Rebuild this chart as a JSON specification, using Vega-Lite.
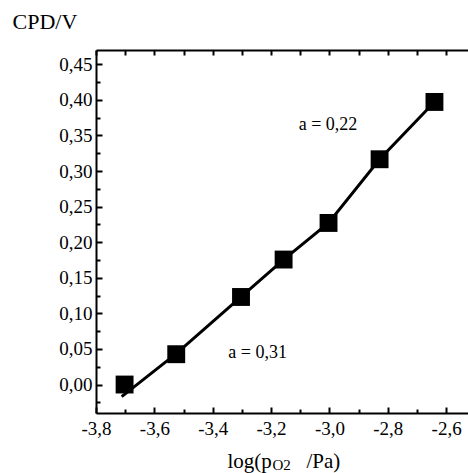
{
  "$schema": "https://vega.github.io/schema/vega-lite/v6.json",
  "autosize": "none",
  "padding": {"left": 96, "top": 50, "right": 0, "bottom": 60},
  "width": 372,
  "height": 363,
  "background": "white",
  "config": {
    "view": {"stroke": null},
    "font": "Liberation Serif",
    "axis": {
      "grid": false,
      "labelFont": "Liberation Serif",
      "labelFontSize": 19,
      "labelColor": "black",
      "labelFlush": false,
      "labelOverlap": false,
      "titleFont": "Liberation Serif",
      "titleFontWeight": "normal",
      "titleColor": "black",
      "tickColor": "black",
      "domainColor": "black",
      "tickWidth": 2,
      "domainWidth": 2
    }
  },
  "datasets": {
    "points": [
      {"logp": -3.702, "cpd": 0.000},
      {"logp": -3.525, "cpd": 0.0426},
      {"logp": -3.303, "cpd": 0.123},
      {"logp": -3.157, "cpd": 0.1756},
      {"logp": -3.003, "cpd": 0.227},
      {"logp": -2.828, "cpd": 0.3165},
      {"logp": -2.640, "cpd": 0.397}
    ],
    "fit": [
      {"logp": -3.712, "cpd": -0.017},
      {"logp": -3.525, "cpd": 0.0435},
      {"logp": -3.303, "cpd": 0.123},
      {"logp": -3.157, "cpd": 0.1756},
      {"logp": -3.003, "cpd": 0.227},
      {"logp": -2.828, "cpd": 0.3165},
      {"logp": -2.640, "cpd": 0.397}
    ],
    "notes": [
      {"logp": -3.005, "cpd": 0.364, "label": "a = 0,22"},
      {"logp": -3.246, "cpd": 0.0436, "label": "a = 0,31"}
    ]
  },
  "resolve": {"axis": {"x": "independent", "y": "independent"}},
  "layer": [
    {
      "data": {"name": "fit"},
      "mark": {"type": "line", "color": "black", "strokeWidth": 3},
      "encoding": {
        "x": {
          "field": "logp", "type": "quantitative",
          "scale": {"domain": [-3.8, -2.525], "nice": false, "zero": false},
          "axis": {
            "orient": "bottom",
            "values": [-3.8, -3.6, -3.4, -3.2, -3.0, -2.8, -2.6],
            "labelExpr": "replace(replace(format(datum.value, '.1f'), '.', ','), '\u2212', '-')",
            "tickSize": -6,
            "labelPadding": 12,
            "title": "log(p",
            "titleFontSize": 21,
            "titleAlign": "left",
            "titleBaseline": "alphabetic",
            "titleAnchor": null,
            "titleX": 131,
            "titleY": 54
          }
        },
        "y": {
          "field": "cpd", "type": "quantitative",
          "scale": {"domain": [-0.04, 0.47], "nice": false, "zero": false},
          "axis": {
            "orient": "left",
            "values": [0, 0.05, 0.1, 0.15, 0.2, 0.25, 0.3, 0.35, 0.4, 0.45],
            "labelExpr": "replace(format(datum.value, '.2f'), '.', ',')",
            "tickSize": -6,
            "labelPadding": 10,
            "title": "CPD/V",
            "titleFontSize": 22,
            "titleAngle": 0,
            "titleAlign": "left",
            "titleBaseline": "alphabetic",
            "titleAnchor": null,
            "titleX": -84,
            "titleY": -22
          }
        },
        "order": {"field": "logp", "type": "quantitative"}
      }
    },
    {
      "data": {"name": "points"},
      "mark": {"type": "point", "shape": "square", "filled": true, "color": "black", "opacity": 1, "size": 320},
      "encoding": {
        "x": {
          "field": "logp", "type": "quantitative",
          "axis": {
            "orient": "bottom",
            "values": [-3.7, -3.5, -3.3, -3.1, -2.9, -2.7],
            "labels": false,
            "domain": false,
            "tickSize": -4,
            "title": "O2",
            "titleFontSize": 15,
            "titleAlign": "left",
            "titleBaseline": "alphabetic",
            "titleAnchor": null,
            "titleX": 176,
            "titleY": 56
          }
        },
        "y": {
          "field": "cpd", "type": "quantitative",
          "axis": {
            "orient": "left",
            "values": [-0.025, 0.025, 0.075, 0.125, 0.175, 0.225, 0.275, 0.325, 0.375, 0.425],
            "labels": false,
            "domain": false,
            "tickSize": -4,
            "title": null
          }
        }
      }
    },
    {
      "data": {"name": "notes"},
      "mark": {"type": "text", "font": "Liberation Serif", "fontSize": 18, "color": "black", "align": "center", "baseline": "middle"},
      "encoding": {
        "x": {
          "field": "logp", "type": "quantitative",
          "axis": {
            "orient": "top",
            "values": [-3.8, -3.7, -3.6, -3.5, -3.4, -3.3, -3.2, -3.1, -3.0, -2.9, -2.8, -2.7, -2.6],
            "labels": false,
            "domain": true,
            "tickSize": -5,
            "title": "/Pa)",
            "titleFontSize": 21,
            "titleAlign": "left",
            "titleBaseline": "alphabetic",
            "titleAnchor": null,
            "titleX": 210,
            "titleY": 417
          }
        },
        "y": {"field": "cpd", "type": "quantitative", "axis": null},
        "text": {"field": "label"}
      }
    }
  ]
}
